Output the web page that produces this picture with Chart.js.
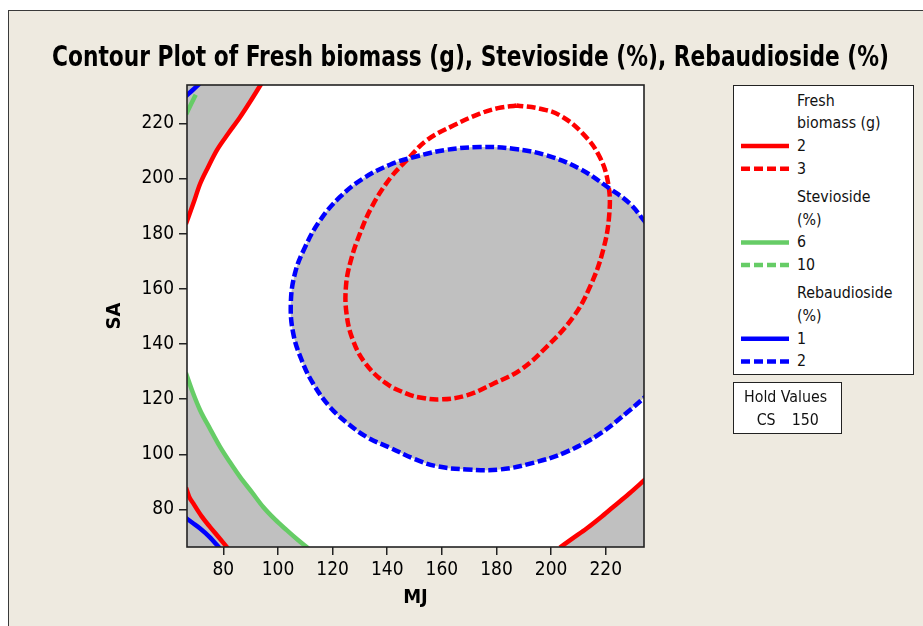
<!DOCTYPE html>
<html><head><meta charset="utf-8">
<script src="https://cdn.jsdelivr.net/npm/chart.js@4.4.1/dist/chart.umd.min.js"></script>
<style>
html,body{margin:0;padding:0;background:#fff;width:923px;height:626px;overflow:hidden;font-family:"DejaVu Sans Condensed","DejaVu Sans",sans-serif;}
#frame{position:absolute;left:8px;top:10px;width:915px;height:616px;background:#EEEAE0;border-left:1.5px solid #3a3a3a;border-top:1.5px solid #3a3a3a;box-sizing:border-box;}
#c{position:absolute;left:0;top:0;}
#title{position:absolute;left:52px;top:42px;font-weight:bold;font-size:29px;line-height:29px;white-space:nowrap;transform-origin:0 0;color:#000;}
.box{position:absolute;background:#fff;border:1px solid #222;box-sizing:border-box;}
.t{position:absolute;font-size:15.8px;line-height:20px;white-space:nowrap;color:#111;}
svg{position:absolute;left:0;top:0;overflow:visible;}
</style></head>
<body>
<div id="frame"></div>
<canvas id="c" width="923" height="626"></canvas>
<div id="title"></div>
<div class="box" style="left:733px;top:85px;width:181px;height:290px"></div>
<div class="box" style="left:733px;top:382px;width:109px;height:52px"></div>
<div id="legend"></div>
<script>
// ---- data ----
const titleText = "Contour Plot of Fresh biomass (g), Stevioside (%), Rebaudioside (%)";
const xLabel = "MJ";
const yLabel = "SA";
const xTicks = [80,100,120,140,160,180,200,220];
const yTicks = [80,100,120,140,160,180,200,220];
const xRange = [66.7, 234.0];
const yRange = [66.4, 233.9];
const holdName = "CS";
const holdValue = 150;

// Fresh biomass (g) = 2 (solid) and = 3 (dashed)
const biomass2TopLeft = [[66.3,183.5],[69.0,190.9],[71.5,198.1],[74.5,204.3],[77.6,210.2],[81.8,216.3],[86.1,222.2],[89.8,227.8],[94.0,234.5]];
const biomass2BottomLeft = [[66.3,88.0],[67.5,84.6],[69.0,82.2],[72.0,77.6],[75.1,73.7],[78.0,70.3],[81.6,66.0]];
const biomass2BottomRight = [[203.2,66.2],[208.0,69.6],[213.0,73.1],[218.0,77.0],[222.7,80.9],[228.5,85.7],[234.5,91.0]];
const biomass3 = [[187.4,226.5],[180.5,225.5],[173.9,223.5],[164.2,219.2],[154.4,213.8],[147.5,207.0],[141.0,200.0],[134.5,190.0],[130.0,180.0],[126.6,170.0],[124.9,161.0],[125.1,151.0],[127.4,141.5],[132.0,133.0],[139.5,125.8],[147.1,122.0],[152.0,120.6],[159.3,119.9],[169.1,121.4],[178.8,125.6],[188.6,130.5],[198.3,138.9],[208.1,149.8],[214.2,160.7],[219.0,173.9],[221.3,187.2],[220.9,198.1],[217.8,207.8],[211.7,216.2],[203.2,222.9],[195.9,225.3],[187.4,226.5]];

// Stevioside (%) = 6 (solid)
const stev6TopLeft = [[66.4,223.3],[68.2,227.0],[69.9,230.4]];
const stev6BottomLeft = [[66.3,129.5],[68.8,122.5],[71.5,116.0],[75.0,109.5],[78.8,102.7],[82.5,97.0],[86.1,91.8],[90.5,86.2],[94.6,80.9],[99.0,76.3],[103.2,72.5],[107.0,69.2],[111.2,65.8]];

// Rebaudioside (%) = 1 (solid) and = 2 (dashed)
const reb1TopLeft = [[66.2,229.8],[68.7,232.0],[71.3,234.4]];
const reb1BottomLeft = [[66.2,77.0],[68.8,75.1],[71.5,73.1],[75.0,70.0],[78.6,66.0]];
const reb2 = [[234.6,184.0],[228.8,190.9],[221.5,196.3],[210.5,203.5],[198.3,208.4],[186.1,210.8],[173.9,211.4],[161.7,210.4],[149.5,207.7],[141.0,205.0],[131.2,200.0],[122.7,193.3],[115.4,184.8],[109.9,175.1],[106.2,165.5],[104.7,154.6],[105.6,143.8],[108.7,134.1],[112.9,125.6],[119.0,117.2],[125.8,111.0],[133.0,106.0],[141.0,102.4],[150.0,98.3],[158.1,95.7],[169.1,94.5],[181.2,94.5],[193.4,96.9],[205.6,100.9],[217.9,107.5],[228.8,116.0],[234.6,121.0]];

const legendGroups = [
  {title:["Fresh","biomass (g)"], items:[{label:"2",color:"#FF0000",dash:false},{label:"3",color:"#FF0000",dash:true}]},
  {title:["Stevioside","(%)"], items:[{label:"6",color:"#66CC66",dash:false},{label:"10",color:"#66CC66",dash:true}]},
  {title:["Rebaudioside","(%)"], items:[{label:"1",color:"#0000FF",dash:false},{label:"2",color:"#0000FF",dash:true}]}
];

// ---- styles ----
const FONT = "'DejaVu Sans Condensed','DejaVu Sans',sans-serif";
const RED = "#FF0000", GREEN = "#66CC66", BLUE = "#0000FF", GRAY = "#C0C0C0";
const DASH = [9,3.5];
const LW = 4.5;

const pts = a => a.map(([x,y]) => ({x,y}));
function line(data, color, dashed, fill, closed){
  const ds = {data: pts(data), showLine:true, pointRadius:0, borderColor:color, borderWidth:LW,
          borderDash: dashed ? DASH : [], fill: fill || false,
          backgroundColor: GRAY, clip:0, borderCapStyle:'butt', borderJoinStyle:'round'};
  if (closed) { ds.tension = 0.4; } else { ds.cubicInterpolationMode = 'monotone'; }
  return ds;
}

const plotFrame = {
  id:'plotFrame',
  beforeDraw(chart){
    const {ctx, chartArea:a} = chart;
    ctx.save(); ctx.fillStyle = '#fff'; ctx.fillRect(a.left, a.top, a.width, a.height); ctx.restore();
  },
  afterDatasetsDraw(chart){
    const {ctx, chartArea:a} = chart;
    ctx.save(); ctx.strokeStyle = '#222'; ctx.lineWidth = 1.6;
    ctx.strokeRect(a.left, a.top, a.width, a.height); ctx.restore();
  }
};

new Chart(document.getElementById('c'), {
  type:'scatter',
  data:{datasets:[
    line(reb2, BLUE, true, 'shape', true),
    line(biomass2TopLeft, RED, false, 'end'),
    line(stev6BottomLeft, GREEN, false, 'start'),
    line(biomass2BottomRight, RED, false, 'start'),
    line(biomass2BottomLeft, RED, false),
    line(stev6TopLeft, GREEN, false),
    line(reb1TopLeft, BLUE, false),
    line(reb1BottomLeft, BLUE, false),
    line(biomass3, RED, true, false, true)
  ]},
  options:{
    responsive:false, animation:false, events:[],
    layout:{padding:{left:0, top:85, right:279, bottom:0}},
    plugins:{legend:{display:false}, tooltip:{enabled:false}, title:{display:false},
             filler:{drawTime:'beforeDatasetsDraw'}},
    scales:{
      x:{type:'linear', min:xRange[0], max:xRange[1],
         afterBuildTicks: s => { s.ticks = xTicks.map(v => ({value:v})); },
         afterFit: s => { s.height = 79; },
         grid:{display:true, drawOnChartArea:false, drawTicks:true, tickLength:8, color:'#222', lineWidth:1.5},
         border:{display:false},
         ticks:{font:{family:FONT, size:19}, color:'#000', padding:4, maxRotation:0, autoSkip:false},
         title:{display:true, text:xLabel, color:'#000', font:{family:FONT, size:20, weight:'bold'}, padding:{top:0, bottom:16}}},
      y:{type:'linear', min:yRange[0], max:yRange[1],
         afterBuildTicks: s => { s.ticks = yTicks.map(v => ({value:v})); },
         afterFit: s => { s.width = 187; },
         grid:{display:true, drawOnChartArea:false, drawTicks:true, tickLength:8, color:'#222', lineWidth:1.5},
         border:{display:false},
         ticks:{font:{family:FONT, size:19}, color:'#000', padding:5, autoSkip:false},
         title:{display:true, text:yLabel, color:'#000', font:{family:FONT, size:20, weight:'bold'}, padding:{top:103, bottom:0}}}
    }
  },
  plugins:[plotFrame]
});

// ---- title (fit to the reference width) ----
const t = document.getElementById('title');
t.textContent = titleText;
const targetW = 837;
t.style.transform = 'scaleX(' + (targetW / t.getBoundingClientRect().width) + ')';

// ---- legend ----
const lg = document.getElementById('legend');
const textX = 797, lineX0 = 741, lineX1 = 789;
let y = 100.7;
const rowH = 22.7, groupGap = 5.5;
let svg = '<svg width="923" height="626">';
let html = '';
legendGroups.forEach((g, gi) => {
  if (gi > 0) y += groupGap;
  g.title.forEach(s => { html += `<div class="t" style="left:${textX}px;top:${y-10}px">${s}</div>`; y += rowH; });
  g.items.forEach(it => {
    html += `<div class="t" style="left:${textX}px;top:${y-10}px">${it.label}</div>`;
    svg += `<line x1="${lineX0}" x2="${lineX1}" y1="${y}" y2="${y}" stroke="${it.color}" stroke-width="4.5" ${it.dash ? 'stroke-dasharray="9 4"' : ''}/>`;
    y += rowH;
  });
});
svg += '</svg>';
html += `<div class="t" style="left:744px;top:${396.7-10}px">Hold Values</div>`;
html += `<div class="t" style="left:756.7px;top:${420-10}px">${holdName}</div>`;
html += `<div class="t" style="left:791.7px;top:${420-10}px">${holdValue}</div>`;
lg.innerHTML = svg + html;
</script>
</body></html>
